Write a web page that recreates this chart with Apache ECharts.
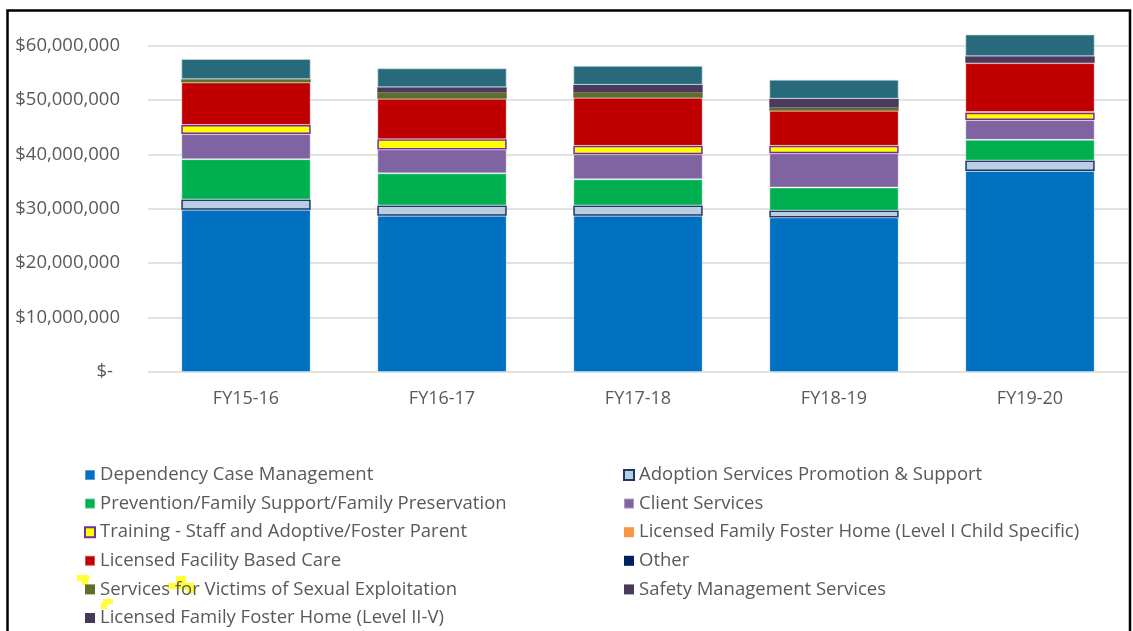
<!DOCTYPE html>
<html>
<head>
<meta charset="utf-8">
<script src="https://cdn.jsdelivr.net/npm/echarts@6/dist/echarts.min.js"></script>
<style>
  html, body { margin: 0; padding: 0; background: #ffffff; overflow: hidden; width: 1133px; height: 631px; }
  /* canvas reaches 20px above the page so the 70M gridline sits off-screen */
  #chart { position: absolute; left: 0; top: -20px; width: 1133px; height: 651px; }
</style>
</head>
<body>
<div id="chart"></div>
<script>
// Fiscal years on the category axis
const years = ['FY15-16', 'FY16-17', 'FY17-18', 'FY18-19', 'FY19-20'];

// Expenditure by service category, in dollars (stack order, bottom to top)
const dependencyCaseMgmt   = [29800000, 28700000, 28700000, 28400000, 36950000];
const adoptionServices     = [ 1900000,  1900000,  1900000,  1250000,  1900000];
const preventionSupport    = [ 7400000,  5900000,  4800000,  4250000,  3800000];
const clientServices       = [ 4650000,  4400000,  4600000,  6300000,  3650000];
const trainingStaffParents = [ 1650000,  1850000,  1550000,  1350000,  1350000];
const fosterHomeLevelI     = [       0,        0,        0,        0,   100000];
const facilityBasedCare    = [ 7800000,  7450000,  8850000,  6450000,  9000000];
const otherServices        = [       0,        0,        0,        0,        0];
const victimsExploitation  = [  600000,  1150000,  1000000,   600000,    60000];
const safetyManagement     = [       0,   950000,  1350000,  1600000,  1200000];
const fosterHomeLevelIIV   = [       0,        0,        0,        0,        0];
const topSegment           = [ 3700000,  3500000,  3500000,  3500000,  4000000];

// Value-axis ticks
const yMax = 70000000;
const yStep = 10000000;

const FONT = '"Open Sans", "DejaVu Sans", sans-serif';
const GREY = '#595959';
const OFF = 20; // canvas offset above the page

const softEdge = 'rgba(255,255,255,0.35)';

const seriesDefs = [
  { name: 'Dependency Case Management', data: dependencyCaseMgmt, color: '#0070C0', border: softEdge, bw: 1 },
  { name: 'Adoption Services Promotion & Support', data: adoptionServices, color: '#B9CDE5', border: '#1F3864', bw: 1.5 },
  { name: 'Prevention/Family Support/Family Preservation', data: preventionSupport, color: '#00B050', border: softEdge, bw: 1 },
  { name: 'Client Services', data: clientServices, color: '#8064A2', border: softEdge, bw: 1 },
  { name: 'Training - Staff and Adoptive/Foster Parent', data: trainingStaffParents, color: '#FFFF00', border: '#7030A0', bw: 1.5 },
  { name: 'Licensed Family Foster Home (Level I Child Specific)', data: fosterHomeLevelI, color: '#F79646', border: '#F79646', bw: 0 },
  { name: 'Licensed Facility Based Care', data: facilityBasedCare, color: '#C00000', border: softEdge, bw: 1 },
  { name: 'Other', data: otherServices, color: '#002060', border: '#002060', bw: 0 },
  { name: 'Services for Victims of Sexual Exploitation', data: victimsExploitation, color: '#5E6E2C', border: '#5E6E2C', bw: 0 },
  { name: 'Safety Management Services', data: safetyManagement, color: '#4B3A5E', border: '#4B3A5E', bw: 0 },
  { name: 'Licensed Family Foster Home (Level II-V)', data: fosterHomeLevelIIV, color: '#463A5C', border: '#463A5C', bw: 0 },
  { name: 'Additional Services', data: topSegment, color: '#286A7B', border: 'rgba(200,225,232,0.6)', bw: 1 }
];

const leftLegend = [
  'Dependency Case Management',
  'Prevention/Family Support/Family Preservation',
  'Training - Staff and Adoptive/Foster Parent',
  'Licensed Facility Based Care',
  'Services for Victims of Sexual Exploitation',
  'Licensed Family Foster Home (Level II-V)'
];
const rightLegend = [
  'Adoption Services Promotion & Support',
  'Client Services',
  'Licensed Family Foster Home (Level I Child Specific)',
  'Other',
  'Safety Management Services'
];

const legendText = { color: GREY, fontFamily: FONT, fontSize: 18.5, lineHeight: 20 };

function mark(x, y, w, h) {
  return { type: 'rect', z: -1, shape: { x: x, y: y + OFF, width: w, height: h }, style: { fill: '#FFFF33' } };
}

const chart = echarts.init(document.getElementById('chart'), null, { renderer: 'canvas' });

chart.setOption({
  backgroundColor: '#ffffff',
  animation: false,
  grid: { left: 148, right: 5, top: 11, bottom: 259, containLabel: false },
  xAxis: {
    type: 'category',
    data: years,
    axisLine: { show: false },
    axisTick: { show: false },
    axisLabel: { color: GREY, fontFamily: FONT, fontSize: 18, margin: 18 }
  },
  yAxis: {
    type: 'value',
    min: 0,
    max: yMax,
    interval: yStep,
    axisLine: { show: false },
    axisTick: { show: false },
    splitLine: { lineStyle: { color: '#D9D9D9', width: 1.5 } },
    axisLabel: {
      showMaxLabel: false,
      color: GREY,
      fontFamily: FONT,
      fontSize: 18.5,
      margin: 28,
      formatter: function (v) {
        if (v === 0) return '{z|$-}';
        return '$' + v.toLocaleString('en-US');
      },
      rich: {
        z: { color: GREY, fontFamily: FONT, fontSize: 18.5, padding: [0, 7, 0, 0] }
      }
    }
  },
  legend: [
    {
      data: leftLegend, orient: 'vertical', left: 84, top: 465 + OFF, height: 200, padding: 0,
      itemWidth: 10, itemHeight: 10, itemGap: 8.6, icon: 'rect',
      textStyle: legendText, selectedMode: false
    },
    {
      data: rightLegend, orient: 'vertical', left: 623, top: 465 + OFF, height: 200, padding: 0,
      itemWidth: 10, itemHeight: 10, itemGap: 8.6, icon: 'rect',
      textStyle: legendText, selectedMode: false
    }
  ],
  graphic: [
    // outer frame (left, top and right edges)
    {
      type: 'polyline', z: 100,
      shape: { points: [[7.5, 660], [7.5, 10.5 + OFF], [1130, 10.5 + OFF], [1130, 660]] },
      style: { stroke: '#000000', lineWidth: 2.5, fill: null }
    },
    // highlighter marks around the sexual-exploitation legend entry
    mark(77, 575, 12, 6),
    mark(82, 580, 6, 5),
    mark(103, 599, 10, 5),
    mark(101, 603, 6, 6),
    mark(168, 583, 26, 6),
    mark(176, 576, 10, 8),
    mark(187, 587, 8, 6)
  ],
  series: seriesDefs.map(function (s) {
    return {
      name: s.name,
      type: 'bar',
      stack: 'total',
      barCategoryGap: '34%',
      data: s.data,
      itemStyle: { color: s.color, borderColor: s.border, borderWidth: s.bw },
      emphasis: { disabled: true }
    };
  })
});
</script>
</body>
</html>
